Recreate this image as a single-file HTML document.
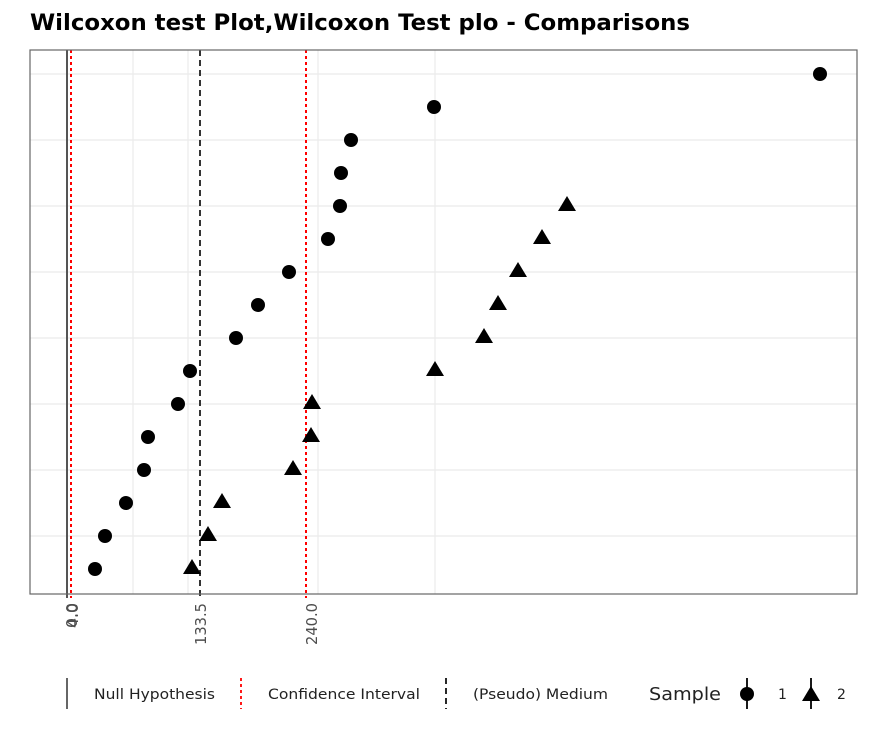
<!DOCTYPE html>
<html><head><meta charset="utf-8"><style>body{margin:0;background:#fff}svg{display:block}</style></head><body>
<svg width="887" height="740" viewBox="0 0 887 740" xmlns="http://www.w3.org/2000/svg" font-family="'DejaVu Sans','Liberation Sans',sans-serif">
<text x="30" y="30" font-size="22" font-weight="bold" textLength="660" lengthAdjust="spacingAndGlyphs">Wilcoxon test Plot,Wilcoxon Test plo - Comparisons</text>
<g stroke="#ebebeb" stroke-width="1.2">
<line x1="30" x2="857" y1="74" y2="74"/><line x1="30" x2="857" y1="140" y2="140"/><line x1="30" x2="857" y1="206" y2="206"/><line x1="30" x2="857" y1="272" y2="272"/><line x1="30" x2="857" y1="338" y2="338"/><line x1="30" x2="857" y1="404" y2="404"/><line x1="30" x2="857" y1="470" y2="470"/><line x1="30" x2="857" y1="536" y2="536"/>
<line x1="133" x2="133" y1="50" y2="594"/><line x1="188" x2="188" y1="50" y2="594"/><line x1="318" x2="318" y1="50" y2="594"/><line x1="435" x2="435" y1="50" y2="594"/>
</g>
<line x1="67" x2="67" y1="50" y2="598" stroke="#555" stroke-width="2"/>
<line x1="71" x2="71" y1="50" y2="598" stroke="#f00" stroke-width="2" stroke-dasharray="3,3"/>
<line x1="306" x2="306" y1="50" y2="598" stroke="#f00" stroke-width="2" stroke-dasharray="3,3"/>
<line x1="200" x2="200" y1="50" y2="598" stroke="#333" stroke-width="2" stroke-dasharray="6,4"/>
<rect x="30" y="50" width="827" height="544" fill="none" stroke="#666" stroke-width="1.2"/>
<g fill="#000">
<circle cx="820" cy="74" r="7"/><circle cx="434" cy="107" r="7"/><circle cx="351" cy="140" r="7"/><circle cx="341" cy="173" r="7"/><circle cx="340" cy="206" r="7"/><circle cx="328" cy="239" r="7"/><circle cx="289" cy="272" r="7"/><circle cx="258" cy="305" r="7"/><circle cx="236" cy="338" r="7"/><circle cx="190" cy="371" r="7"/><circle cx="178" cy="404" r="7"/><circle cx="148" cy="437" r="7"/><circle cx="144" cy="470" r="7"/><circle cx="126" cy="503" r="7"/><circle cx="105" cy="536" r="7"/><circle cx="95" cy="569" r="7"/>
</g>
<g fill="#000">
<path d="M567 196 l9 15 h-18z"/><path d="M542 229 l9 15 h-18z"/><path d="M518 262 l9 15 h-18z"/><path d="M498 295 l9 15 h-18z"/><path d="M484 328 l9 15 h-18z"/><path d="M435 361 l9 15 h-18z"/><path d="M312 394 l9 15 h-18z"/><path d="M311 427 l9 15 h-18z"/><path d="M293 460 l9 15 h-18z"/><path d="M222 493 l9 15 h-18z"/><path d="M208 526 l9 15 h-18z"/><path d="M192 559 l9 15 h-18z"/>
</g>
<g font-size="15" fill="#4d4d4d">
<text transform="translate(77,603) rotate(-90)" text-anchor="end" textLength="25" lengthAdjust="spacingAndGlyphs">0.0</text>
<text transform="translate(78,603) rotate(-90)" text-anchor="end" textLength="25" lengthAdjust="spacingAndGlyphs">4.0</text>
<text transform="translate(206,603) rotate(-90)" text-anchor="end" textLength="42" lengthAdjust="spacingAndGlyphs">133.5</text>
<text transform="translate(317,603) rotate(-90)" text-anchor="end" textLength="42" lengthAdjust="spacingAndGlyphs">240.0</text>
</g>
<line x1="67" x2="67" y1="678" y2="709" stroke="#555" stroke-width="1.8"/>
<line x1="241" x2="241" y1="678" y2="709" stroke="#f00" stroke-width="1.8" stroke-dasharray="3,3"/>
<line x1="446" x2="446" y1="678" y2="709" stroke="#111" stroke-width="1.8" stroke-dasharray="6,4"/>
<g font-size="14" fill="#222">
<text x="94" y="699" textLength="121" lengthAdjust="spacingAndGlyphs">Null Hypothesis</text>
<text x="268" y="699" textLength="152" lengthAdjust="spacingAndGlyphs">Confidence Interval</text>
<text x="473" y="699" textLength="135" lengthAdjust="spacingAndGlyphs">(Pseudo) Medium</text>
<text x="778" y="699">1</text><text x="837" y="699">2</text>
</g>
<text x="649" y="700" font-size="18" fill="#222" textLength="72" lengthAdjust="spacingAndGlyphs">Sample</text>
<line x1="747" x2="747" y1="678" y2="709" stroke="#000" stroke-width="1.8"/>
<circle cx="747" cy="694" r="7"/>
<line x1="811" x2="811" y1="678" y2="709" stroke="#000" stroke-width="1.8"/>
<path d="M811 686 l9 15 h-18z"/>
</svg>
</body></html>
